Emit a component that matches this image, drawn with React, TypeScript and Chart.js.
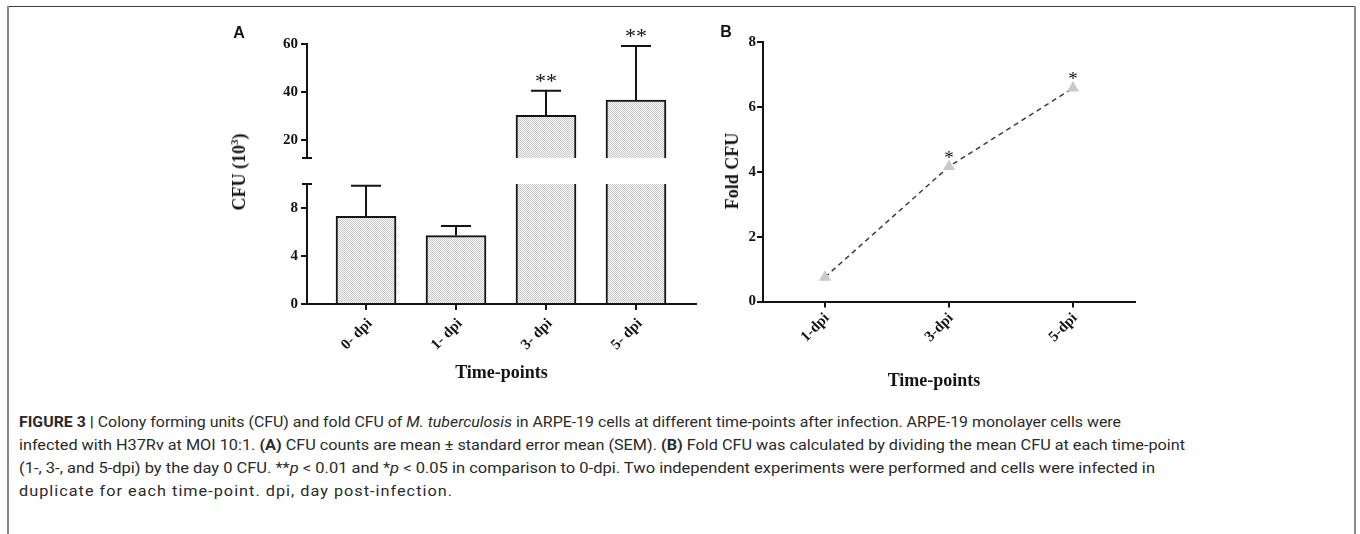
import React, { useEffect, useLayoutEffect, useRef } from 'react';
import { Chart, registerables } from 'chart.js';

Chart.register(...registerables);

// ---------------- data ----------------
const categoriesA = ['0- dpi', '1- dpi', '3- dpi', '5- dpi'];
const cfuMean = [7.3, 5.7, 30.3, 36.6];
const cfuSem = [2.55, 0.8, 10.2, 22.6];
const sigA = ['', '', '**', '**'];
const upperTicksA = [20, 40, 60];
const lowerTicksA = [0, 4, 8];

const categoriesB = ['1-dpi', '3-dpi', '5-dpi'];
const foldCfu = [0.75, 4.16, 6.58];
const sigB = ['', '*', '*'];
const ticksB = [0, 2, 4, 6, 8];

// ---------------- styles ----------------
const SERIF = '"Liberation Serif", "Times New Roman", serif';
const INK = '#141414';

function makePattern(ctx: CanvasRenderingContext2D) {
  const c = document.createElement('canvas');
  c.width = 2;
  c.height = 2;
  const g = c.getContext('2d')!;
  g.fillStyle = '#f3f3f3';
  g.fillRect(0, 0, 2, 2);
  g.fillStyle = '#cdcdcd';
  g.fillRect(0, 0, 1, 1);
  g.fillRect(1, 1, 1, 1);
  return ctx.createPattern(c, 'repeat');
}

const errorBarPlugin = {
  id: 'errorBars',
  afterDatasetsDraw(chart: any) {
    const { ctx, chartArea } = chart;
    const meta = chart.getDatasetMeta(0);
    const y = chart.scales.y;
    ctx.save();
    ctx.beginPath();
    ctx.rect(chartArea.left, chartArea.top - 2, chartArea.right - chartArea.left, chartArea.bottom - chartArea.top + 2);
    ctx.clip();
    ctx.strokeStyle = INK;
    ctx.lineWidth = 2;
    meta.data.forEach((bar: any, i: number) => {
      const top = y.getPixelForValue(cfuMean[i] + cfuSem[i]);
      const base = y.getPixelForValue(cfuMean[i]);
      const half = bar.width / 4;
      ctx.beginPath();
      ctx.moveTo(bar.x, base);
      ctx.lineTo(bar.x, top);
      ctx.moveTo(bar.x - half, top);
      ctx.lineTo(bar.x + half, top);
      ctx.stroke();
    });
    ctx.restore();
  },
};

const sigPluginA = {
  id: 'sigA',
  afterDatasetsDraw(chart: any) {
    const { ctx } = chart;
    const y = chart.scales.y;
    const meta = chart.getDatasetMeta(0);
    ctx.save();
    ctx.fillStyle = INK;
    ctx.font = `22px ${SERIF}`;
    ctx.textAlign = 'center';
    ctx.textBaseline = 'alphabetic';
    meta.data.forEach((bar: any, i: number) => {
      const v = cfuMean[i] + cfuSem[i];
      if (!sigA[i] || v > y.max || v < y.min) return;
      ctx.fillText(sigA[i], bar.x, y.getPixelForValue(v) - 3);
    });
    ctx.restore();
  },
};

function breakPlugin(where: 'top' | 'bottom') {
  return {
    id: 'axisBreak',
    afterDraw(chart: any) {
      const { ctx, chartArea } = chart;
      const yy = where === 'top' ? chartArea.top : chartArea.bottom;
      ctx.save();
      ctx.strokeStyle = INK;
      ctx.lineWidth = 2;
      ctx.beginPath();
      ctx.moveTo(chartArea.left - 5, yy);
      ctx.lineTo(chartArea.left + 5, yy);
      ctx.stroke();
      ctx.restore();
    },
  };
}

const sigPluginB = {
  id: 'sigB',
  afterDatasetsDraw(chart: any) {
    const { ctx } = chart;
    const y = chart.scales.y;
    const meta = chart.getDatasetMeta(0);
    ctx.save();
    ctx.fillStyle = INK;
    ctx.font = `19px ${SERIF}`;
    ctx.textAlign = 'center';
    ctx.textBaseline = 'alphabetic';
    meta.data.forEach((pt: any, i: number) => {
      if (!sigB[i]) return;
      ctx.fillText(sigB[i], pt.x, y.getPixelForValue(foldCfu[i]) - 3);
    });
    ctx.restore();
  },
};

const tickFont = { family: SERIF, size: 15, weight: 'bold' as const };

function axisY(ticks: number[], min: number, max: number, width: number, pad: number) {
  return {
    min,
    max,
    afterBuildTicks: (a: any) => {
      a.ticks = ticks.map((v) => ({ value: v }));
    },
    afterFit: (s: any) => {
      s.width = width;
    },
    grid: { drawOnChartArea: false, drawTicks: true, tickLength: 6, color: INK, lineWidth: 2 },
    border: { display: true, color: INK, width: 2 },
    ticks: { color: INK, font: tickFont, padding: pad },
  };
}

function makeBarConfig(part: 'upper' | 'lower', pattern: any): any {
  const isUpper = part === 'upper';
  return {
    type: 'bar',
    data: {
      datasets: [
        {
          data: cfuMean.map((v, i) => ({ x: i, y: v })),
          backgroundColor: pattern,
          borderColor: INK,
          borderWidth: 2,
          borderSkipped: 'start',
          barThickness: 60,
          clip: 0,
        },
      ],
    },
    options: {
      responsive: false,
      maintainAspectRatio: false,
      animation: false,
      devicePixelRatio: 1,
      layout: {
        padding: isUpper
          ? { top: 24, right: 14, bottom: 6, left: 0 }
          : { top: 14, right: 14, bottom: 0, left: 0 },
      },
      plugins: { legend: { display: false }, tooltip: { enabled: false } },
      scales: {
        x: {
          type: 'linear',
          offset: false,
          min: -0.656,
          max: 3.667,
          display: !isUpper,
          afterBuildTicks: (a: any) => {
            a.ticks = categoriesA.map((_, i) => ({ value: i }));
          },
          afterFit: (s: any) => {
            if (!isUpper) s.height = 106;
          },
          grid: { offset: false, drawOnChartArea: false, drawTicks: true, tickLength: 6, color: INK, lineWidth: 2 },
          border: { display: true, color: INK, width: 2 },
          ticks: {
            autoSkip: false,
            minRotation: 45,
            maxRotation: 45,
            padding: 5,
            labelOffset: 4,
            color: INK,
            font: tickFont,
            callback: (v: number) => categoriesA[v] ?? '',
          },
          title: {
            display: true,
            text: 'Time-points',
            color: INK,
            font: { family: SERIF, size: 18, weight: 'bold' },
            padding: { top: 0, bottom: 26 },
          },
        },
        y: isUpper ? axisY(upperTicksA, 12.5, 60, 67, 3) : axisY(lowerTicksA, 0, 10, 67, 3),
      },
    },
    plugins: isUpper
      ? [errorBarPlugin, sigPluginA, breakPlugin('bottom')]
      : [errorBarPlugin, breakPlugin('top')],
  };
}

function makeLineConfig(): any {
  return {
    type: 'line',
    data: {
      labels: categoriesB,
      datasets: [
        {
          data: foldCfu,
          borderColor: '#3a3a3a',
          borderWidth: 1.5,
          borderDash: [5, 4],
          fill: false,
          tension: 0,
          pointStyle: 'triangle',
          pointRadius: 7,
          pointBackgroundColor: '#c9c9c9',
          pointBorderColor: '#c9c9c9',
          pointBorderWidth: 0,
          clip: false,
        },
      ],
    },
    options: {
      responsive: false,
      maintainAspectRatio: false,
      animation: false,
      devicePixelRatio: 1,
      layout: { padding: { top: 22, right: 25, bottom: 0, left: 0 } },
      plugins: { legend: { display: false }, tooltip: { enabled: false } },
      scales: {
        x: {
          type: 'category',
          offset: true,
          afterFit: (s: any) => {
            s.height = 108.5;
          },
          grid: { offset: false, drawOnChartArea: false, drawTicks: true, tickLength: 6, color: INK, lineWidth: 2 },
          border: { display: true, color: INK, width: 2 },
          ticks: {
            autoSkip: false,
            minRotation: 45,
            maxRotation: 45,
            padding: 2,
            labelOffset: 2,
            color: INK,
            font: tickFont,
          },
        },
        y: axisY(ticksB, 0, 8, 73, 1),
      },
    },
    plugins: [sigPluginB],
  };
}

// ---------------- caption ----------------
const CAPTION_FONT = '"Liberation Sans Narrow", "Roboto", "Liberation Sans", sans-serif';
const captionTargets = [1102, 1166, 1136, 434];
const captionTops = [412, 435, 458, 481];

function Caption() {
  const refs = [useRef<HTMLDivElement>(null), useRef<HTMLDivElement>(null), useRef<HTMLDivElement>(null), useRef<HTMLDivElement>(null)];
  useLayoutEffect(() => {
    const els = refs.map((r) => r.current!);
    els.forEach((el) => {
      el.style.transform = 'none';
      el.style.letterSpacing = '0px';
    });
    const widths = els.map((el) => el.getBoundingClientRect().width);
    const refScale = captionTargets[1] / widths[1];
    els.forEach((el, i) => {
      if (i < 3) {
        el.style.transform = `scaleX(${captionTargets[i] / widths[i]})`;
      } else {
        // same glyph shape as line 2, widen with letter spacing
        const n = (el.textContent || '').length;
        const ls = (captionTargets[i] / refScale - widths[i]) / n;
        el.style.letterSpacing = `${ls}px`;
        el.style.transform = `scaleX(${refScale})`;
      }
    });
  }, []);
  const lines = [
    <>
      <b>FIGURE 3 |</b> Colony forming units (CFU) and fold CFU of <i>M. tuberculosis</i> in ARPE-19 cells at different time-points after infection. ARPE-19 monolayer cells were
    </>,
    <>
      infected with H37Rv at MOI 10:1. <b>(A)</b> CFU counts are mean ± standard error mean (SEM). <b>(B)</b> Fold CFU was calculated by dividing the mean CFU at each time-point
    </>,
    <>
      (1-, 3-, and 5-dpi) by the day 0 CFU. **<i>p</i> &lt; 0.01 and *<i>p</i> &lt; 0.05 in comparison to 0-dpi. Two independent experiments were performed and cells were infected in
    </>,
    <>duplicate for each time-point. dpi, day post-infection.</>,
  ];
  return (
    <>
      {lines.map((content, i) => (
        <div
          key={i}
          ref={refs[i]}
          style={{
            position: 'absolute',
            left: 19,
            top: captionTops[i],
            display: 'inline-block',
            whiteSpace: 'nowrap',
            transformOrigin: '0 0',
            fontFamily: CAPTION_FONT,
            fontSize: 15,
            lineHeight: '20px',
            color: '#2a2a2a',
          }}
        >
          {content}
        </div>
      ))}
    </>
  );
}

const label = (left: number, top: number, rotate: boolean, style: any, content: any) => (
  <div
    style={{
      position: 'absolute',
      left,
      top,
      transform: `translate(-50%, -50%)${rotate ? ' rotate(-90deg)' : ''}`,
      whiteSpace: 'nowrap',
      color: INK,
      lineHeight: '20px',
      ...style,
    }}
  >
    {content}
  </div>
);

export default function App() {
  const upperRef = useRef<HTMLCanvasElement>(null);
  const lowerRef = useRef<HTMLCanvasElement>(null);
  const bRef = useRef<HTMLCanvasElement>(null);

  useEffect(() => {
    const up = upperRef.current!;
    const lo = lowerRef.current!;
    const b = bRef.current!;
    const charts = [
      new Chart(up, makeBarConfig('upper', makePattern(up.getContext('2d')!))),
      new Chart(lo, makeBarConfig('lower', makePattern(lo.getContext('2d')!))),
      new Chart(b, makeLineConfig()),
    ];
    return () => charts.forEach((c) => c.destroy());
  }, []);

  const serifBold = { fontFamily: SERIF, fontWeight: 'bold', fontSize: 18 };
  const sansBold = { fontFamily: '"Liberation Sans", Arial, sans-serif', fontWeight: 'bold', fontSize: 16 };

  return (
    <div style={{ position: 'absolute', left: 0, top: 0, width: 1360, height: 534, background: '#fff', overflow: 'hidden' }}>
      {/* frame */}
      <div style={{ position: 'absolute', left: 7, top: 6, width: 1349, height: 1, background: '#3c3c3c' }} />
      <div style={{ position: 'absolute', left: 7, top: 6, width: 2, height: 528, background: '#8a8a8a' }} />
      <div style={{ position: 'absolute', left: 1354, top: 6, width: 2, height: 528, background: '#8a8a8a' }} />

      <canvas ref={upperRef} width={470} height={150} style={{ position: 'absolute', left: 240, top: 20, width: 470, height: 150 }} />
      <canvas ref={lowerRef} width={470} height={240} style={{ position: 'absolute', left: 240, top: 170, width: 470, height: 240 }} />
      <canvas ref={bRef} width={470} height={390} style={{ position: 'absolute', left: 690, top: 20, width: 470, height: 390 }} />

      {label(239, 33, false, sansBold, 'A')}
      {label(726, 32, false, sansBold, 'B')}
      {label(239, 172, true, serifBold, (
        <span>
          CFU (10<sup style={{ fontSize: 11, verticalAlign: 'super', lineHeight: 0 }}>3</sup>)
        </span>
      ))}
      {label(732, 171, true, serifBold, 'Fold CFU')}
      {label(934, 380, false, serifBold, 'Time-points')}

      <Caption />
    </div>
  );
}
